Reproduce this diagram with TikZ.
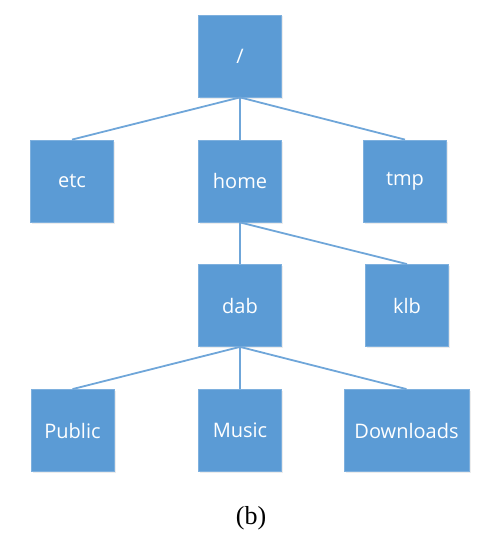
\documentclass[tikz,border=0pt]{standalone}
\usepackage{fontspec}
\usetikzlibrary{shadows}
\setmainfont{Liberation Serif}
\newfontfamily\boxfont{Open Sans}
\definecolor{boxblue}{HTML}{5B9BD5}
\definecolor{boxedge}{HTML}{7EB0DE}
\definecolor{linkblue}{HTML}{6FA6D9}
\begin{document}
\begin{tikzpicture}[x=1pt,y=-1pt,
  dirbox/.style={draw=boxedge,line width=0.8pt,fill=boxblue,text=white,
    minimum width=83pt,minimum height=82pt,inner sep=0pt,
    font=\boxfont\fontsize{20}{24}\selectfont,
    drop shadow={shadow xshift=1.5pt,shadow yshift=-1.5pt,opacity=0.15}},
  link/.style={draw=linkblue,line width=1.8pt}]
\useasboundingbox (0,0) rectangle (502,535);
\node[dirbox] (root) at (240,56) {/};
\node[dirbox] (etc) at (72,181) {etc};
\node[dirbox] (home) at (240,181) {home};
\node[dirbox] (tmp) at (405,181) {tmp};
\node[dirbox] (dab) at (240,305.5) {dab};
\node[dirbox] (klb) at (407,305.5) {klb};
\node[dirbox] (public) at (72.5,430.5) {Public};
\node[dirbox] (music) at (240,430.5) {Music};
\node[dirbox,minimum width=125pt] (downloads) at (406.5,430.5) {Downloads};
\draw[link] (root.south) -- (etc.north);
\draw[link] (root.south) -- (home.north);
\draw[link] (root.south) -- (tmp.north);
\draw[link] (home.south) -- (dab.north);
\draw[link] (home.south) -- (klb.north);
\draw[link] (dab.south) -- (public.north);
\draw[link] (dab.south) -- (music.north);
\draw[link] (dab.south) -- (downloads.north);
\node[font=\fontsize{26}{30}\selectfont] (caption) at (251,518) {(b)};
\end{tikzpicture}
\end{document}
